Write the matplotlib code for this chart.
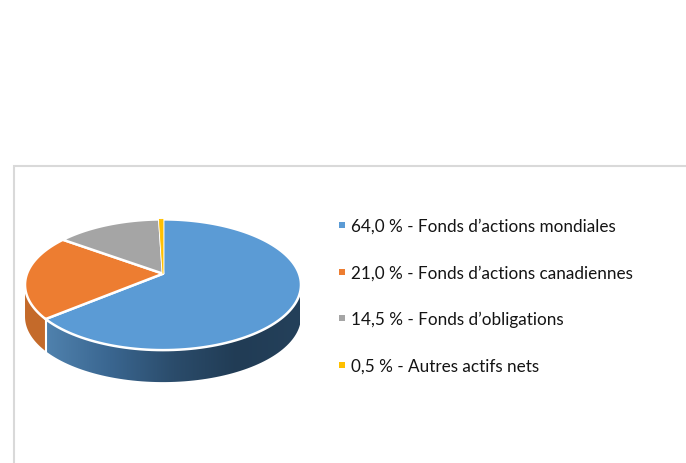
import numpy as np
import matplotlib.pyplot as plt
from matplotlib.patches import PathPatch, Polygon
from matplotlib.path import Path
from matplotlib.colors import LinearSegmentedColormap

# share of each slice, clockwise from the top
values = [64.0, 21.0, 14.5, 0.5]
names = ['Fonds d’actions mondiales', 'Fonds d’actions canadiennes',
         'Fonds d’obligations', 'Autres actifs nets']
value_labels = ['64,0 %', '21,0 %', '14,5 %', '0,5 %']
colors = ['#5b9bd5', '#ed7d31', '#a5a5a5', '#ffc000']

# pie projection, in pixels
CX, CY = 163, 274.7
A, B, K = 136, 63.5, 0.169
DEPTH = 32


def project(t, drop=0):
    # t in radians, clockwise from the top of the pie
    u, v = np.sin(t), np.cos(t)
    w = 1 + K * v
    return np.column_stack([CX + A * u / w, CY - B * v / w + drop])


plt.rcParams['font.family'] = ['Lato', 'DejaVu Sans']
fig = plt.figure(figsize=(6.86, 4.64), dpi=100)
ax = fig.add_axes([0, 0, 1, 1])
ax.set_xlim(0, 686)
ax.set_ylim(464, 0)
ax.axis('off')

# chart frame, open on the right and at the bottom
ax.plot([13.5, 13.5, 686], [464, 166.5, 166.5], color='#d9d9d9', lw=1.5, solid_joinstyle='miter')

edges = np.radians(np.cumsum([0] + values) / sum(values) * 360)
t_right = np.arccos(-K)
t_left = 2 * np.pi - t_right


def wall(t0, t1):
    ts = np.linspace(t0, t1, 80)
    return np.vstack([project(ts), project(ts[::-1], DEPTH)])


# side wall of the blue slice, with its horizontal gradient
blue_wall = Polygon(wall(t_right, edges[1]), closed=True, facecolor='none', edgecolor='none')
ax.add_patch(blue_wall)
shade = LinearSegmentedColormap.from_list('shade', ['#4f81ad', '#3a6690', '#2b4c6b', '#213c55', '#24405a'])
grad = np.linspace(0, 1, 256).reshape(1, -1)
img = ax.imshow(grad, cmap=shade, extent=[47, 300, 464, 0], aspect='auto', zorder=1)
img.set_clip_path(blue_wall)
ax.set_xlim(0, 686)
ax.set_ylim(464, 0)

# side wall of the orange slice
ax.add_patch(Polygon(wall(edges[1], t_left), closed=True, facecolor='#c46a2a', edgecolor='none', zorder=1))
seam = project(np.array([edges[1]]))[0]
ax.plot([seam[0], seam[0]], [seam[1], seam[1] + DEPTH], color='white', lw=1.5, zorder=2)

# top face, white outlines first so the thin yellow slice stays visible
for i in range(len(values)):
    ts = np.linspace(edges[i], edges[i + 1], 120)
    pts = np.vstack([[CX, CY], project(ts), [CX, CY]])
    codes = [Path.MOVETO] + [Path.LINETO] * (len(pts) - 2) + [Path.CLOSEPOLY]
    ax.add_patch(PathPatch(Path(pts, codes), facecolor=colors[i], edgecolor='white',
                           lw=1.8, joinstyle='round', zorder=3))
    if values[i] < 1:
        ax.add_patch(PathPatch(Path(pts, codes), facecolor=colors[i], edgecolor=colors[i],
                               lw=0.6, zorder=3.5))

# legend
ys = [226, 273, 319, 366]
for name, lab, col, y in zip(names, value_labels, colors, ys):
    ax.scatter([341.5], [y], marker='s', s=13, color=col, linewidths=0, zorder=4)
    ax.text(351, y + 0.5, f'{lab} - {name}', fontsize=12.35, color='#141414', va='center', ha='left')

fig.savefig('out.png', dpi=100)
